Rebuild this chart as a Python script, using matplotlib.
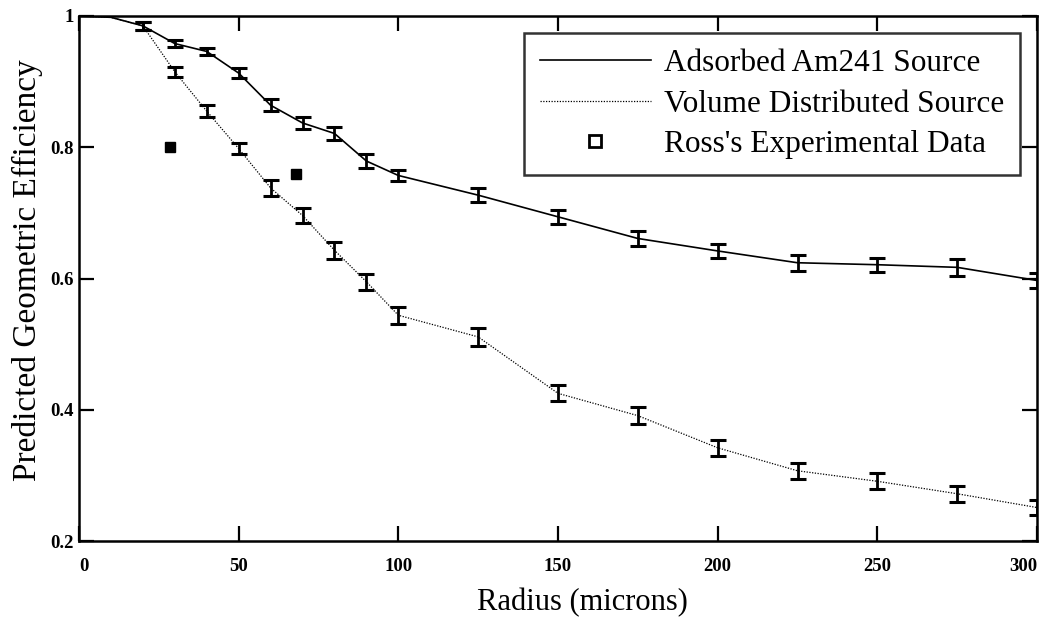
import matplotlib
matplotlib.use("Agg")
import matplotlib.pyplot as plt

# radius (microns)
radius = [0, 10, 20, 30, 40, 50, 60, 70, 80, 90, 100, 125, 150, 175, 200, 225, 250, 275, 300]

# adsorbed Am241 source
adsorbed = [1.0, 0.998, 0.985, 0.958, 0.946, 0.913, 0.864, 0.837, 0.821, 0.779, 0.757,
            0.727, 0.694, 0.661, 0.642, 0.624, 0.621, 0.617, 0.597]
adsorbed_err = [0, 0, 0.006, 0.005, 0.005, 0.008, 0.009, 0.0085, 0.0095, 0.010, 0.008,
                0.011, 0.011, 0.012, 0.011, 0.012, 0.011, 0.013, 0.012]

# volume distributed source
volume = [1.0, 0.998, 0.985, 0.915, 0.855, 0.798, 0.738, 0.696, 0.643, 0.595, 0.544,
          0.511, 0.425, 0.391, 0.342, 0.307, 0.291, 0.272, 0.251]
volume_err = [0, 0, 0.006, 0.008, 0.009, 0.009, 0.012, 0.012, 0.013, 0.012, 0.013,
              0.014, 0.012, 0.013, 0.012, 0.012, 0.012, 0.012, 0.011]

# Ross's experimental data
ross_r = [28.5, 68]
ross_eff = [0.800, 0.759]

x_ticks = [0, 50, 100, 150, 200, 250, 300]
y_ticks = [0.2, 0.4, 0.6, 0.8, 1.0]
y_tick_labels = ["0.2", "0.4", "0.6", "0.8", "1"]

plt.rcParams['font.family'] = ['Liberation Serif', 'DejaVu Serif']

fig = plt.figure(figsize=(10.42, 6.17), dpi=100)
ax = fig.add_axes([79 / 1042, 1 - 541 / 617, 958 / 1042, 525 / 617])

ax.plot(radius, adsorbed, color='black', lw=1.2, label='Adsorbed Am241 Source')
ax.plot(radius, volume, color='black', lw=0.9, linestyle=(0, (1, 1.2)),
        label='Volume Distributed Source')

# error bars only where the model has them (from r = 20)
ax.errorbar(radius[2:], adsorbed[2:], yerr=adsorbed_err[2:], fmt='none', ecolor='black',
            elinewidth=2, capsize=6, capthick=2.2)
ax.errorbar(radius[2:], volume[2:], yerr=volume_err[2:], fmt='none', ecolor='black',
            elinewidth=2, capsize=6, capthick=2.2)

ax.plot(ross_r, ross_eff, 's', color='black', markersize=7.5, linestyle='none')
# legend shows an open square
ax.plot([], [], 's', mfc='white', mec='black', mew=2, markersize=8.5, linestyle='none',
        label="Ross's Experimental Data")

ax.set_xlim(0, 300)
ax.set_ylim(0.2, 1.0)
ax.set_xticks(x_ticks)
ax.set_yticks(y_ticks)
ax.set_yticklabels(y_tick_labels)

ax.tick_params(direction='in', length=11, width=1.6, top=True, right=True,
               labelsize=13.5)
ax.tick_params(axis='x', pad=12)
ax.tick_params(axis='y', pad=4)
for lab in ax.get_xticklabels() + ax.get_yticklabels():
    lab.set_fontweight('bold')
xl = ax.get_xticklabels()
xl[0].set_ha('left')
xl[-1].set_ha('right')
for s in ax.spines.values():
    s.set_linewidth(1.8)

ax.set_xlabel('Radius (microns)', fontsize=22)
ax.xaxis.set_label_coords(0.526, -0.09)
ax.set_ylabel('Predicted Geometric Efficiency', fontsize=24)
ax.yaxis.set_label_coords(-0.038, 0.516)

leg = ax.legend(loc='upper right', bbox_to_anchor=(0.982, 0.9676), borderaxespad=0,
                fontsize=22.5, frameon=True, fancybox=False, handlelength=3.55,
                labelspacing=0.38, borderpad=0.5, handletextpad=0.42)
leg.get_frame().set_edgecolor('black')
leg.get_frame().set_linewidth(1.8)

fig.savefig('out.png', dpi=100)
